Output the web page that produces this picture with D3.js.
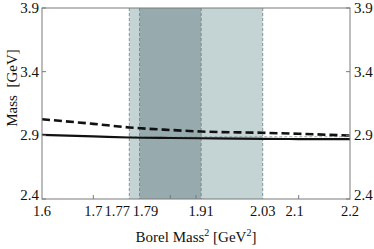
<!DOCTYPE html>
<html>
<head>
<meta charset="utf-8">
<script src="https://cdn.jsdelivr.net/npm/d3@7"></script>
<style>
body { margin: 0; background: #fff; }
svg text { font-family: "Liberation Serif", "DejaVu Serif", serif; fill: #111; }
</style>
</head>
<body>
<svg id="graph" width="374" height="249"></svg>
<script>
// values
var borel = [1.6, 1.7, 1.77, 1.85, 1.91, 2.03, 2.1, 2.2];
var massSolid = [2.903, 2.892, 2.883, 2.879, 2.877, 2.872, 2.871, 2.870];
var massDashed = [3.026, 2.990, 2.962, 2.942, 2.930, 2.920, 2.912, 2.898];
var outerWindow = [1.77, 2.03];
var innerWindow = [1.79, 1.91];
var xTickLabels = ["1.6", "1.7", "1.77", "1.79", "1.91", "2.03", "2.1", "2.2"];
var xTickMarks = [1.7, 1.85, 1.9, 2.1];
var yTicks = [2.4, 2.9, 3.4, 3.9];
var refLevel = 2.889;

var svg = d3.select("#graph");
var pLeft = 42, pRight = 350, pTop = 8, pBottom = 199;

var x = d3.scaleLinear().domain([1.6, 2.2]).range([pLeft, pRight]);
var y = d3.scaleLinear().domain([2.4, 3.9]).range([pBottom, pTop]);

// shaded windows
svg.append("rect")
   .attr("x", x(outerWindow[0]))
   .attr("y", pTop)
   .attr("width", x(outerWindow[1]) - x(outerWindow[0]))
   .attr("height", pBottom - pTop)
   .attr("fill", "#c4d4d4");

svg.append("rect")
   .attr("x", x(innerWindow[0]))
   .attr("y", pTop)
   .attr("width", x(innerWindow[1]) - x(innerWindow[0]))
   .attr("height", pBottom - pTop)
   .attr("fill", "#97aaad");

outerWindow.concat(innerWindow).forEach(function(v) {
	svg.append("line")
	   .attr("x1", x(v)).attr("x2", x(v))
	   .attr("y1", pTop).attr("y2", pBottom)
	   .attr("stroke", "#6f7c7e")
	   .attr("stroke-width", 0.8)
	   .attr("stroke-dasharray", "3,2");
});

svg.append("line")
   .attr("x1", x(outerWindow[0])).attr("x2", x(2.2))
   .attr("y1", y(refLevel)).attr("y2", y(refLevel))
   .attr("stroke", "#8a9597")
   .attr("stroke-width", 0.8)
   .attr("stroke-dasharray", "3,2");

// curves
var line = d3.line()
	.x(function(d, i) { return x(borel[i]); })
	.y(function(d) { return y(d); })
	.curve(d3.curveMonotoneX);

svg.append("path")
   .datum(massDashed)
   .attr("d", line)
   .attr("fill", "none")
   .attr("stroke", "#111")
   .attr("stroke-width", 2.6)
   .attr("stroke-dasharray", "8,4");

svg.append("path")
   .datum(massSolid)
   .attr("d", line)
   .attr("fill", "none")
   .attr("stroke", "#111")
   .attr("stroke-width", 2.2);

// frame
svg.append("rect")
   .attr("x", pLeft).attr("y", pTop)
   .attr("width", pRight - pLeft).attr("height", pBottom - pTop)
   .attr("fill", "none")
   .attr("stroke", "#7a7a7a")
   .attr("stroke-width", 1);

// x ticks
xTickMarks.forEach(function(v) {
	svg.append("line")
	   .attr("x1", x(v)).attr("x2", x(v))
	   .attr("y1", pBottom).attr("y2", pBottom - 4)
	   .attr("stroke", "#7a7a7a");
});

var nudge = {"1.77": -12, "1.79": 6, "2.1": -4};
svg.selectAll(".xlab")
   .data(xTickLabels)
   .enter().append("text")
   .attr("class", "xlab")
   .attr("x", function(d) { return x(+d) + (nudge[d] || 0); })
   .attr("y", 216)
   .attr("text-anchor", "middle")
   .attr("font-size", "14.5px")
   .text(function(d) { return d; });

// y ticks, both sides
yTicks.forEach(function(v) {
	svg.append("line")
	   .attr("x1", pLeft).attr("x2", pLeft + 4)
	   .attr("y1", y(v)).attr("y2", y(v))
	   .attr("stroke", "#7a7a7a");
	svg.append("line")
	   .attr("x1", pRight - 4).attr("x2", pRight)
	   .attr("y1", y(v)).attr("y2", y(v))
	   .attr("stroke", "#7a7a7a");
	var dy = v === 2.4 ? 1 : 5;
	svg.append("text")
	   .attr("x", pLeft - 3)
	   .attr("y", y(v) + dy)
	   .attr("text-anchor", "end")
	   .attr("font-size", "15px")
	   .text(d3.format(".1f")(v));
	svg.append("text")
	   .attr("x", pRight + 4)
	   .attr("y", y(v) + dy)
	   .attr("text-anchor", "start")
	   .attr("font-size", "15px")
	   .text(d3.format(".1f")(v));
});

// axis titles
var xt = svg.append("text")
	.attr("x", 196)
	.attr("y", 242)
	.attr("text-anchor", "middle")
	.attr("font-size", "15px");
xt.append("tspan").text("Borel Mass");
xt.append("tspan").attr("font-size", "10px").attr("dy", -6).text("2");
xt.append("tspan").attr("dy", 6).text("  [GeV");
xt.append("tspan").attr("font-size", "10px").attr("dy", -6).text("2");
xt.append("tspan").attr("dy", 6).text("]");

svg.append("text")
   .attr("transform", "translate(17,88) rotate(-90)")
   .attr("text-anchor", "middle")
   .attr("font-size", "15px")
   .style("white-space", "pre")
   .text("Mass  [GeV]");
</script>
</body>
</html>
